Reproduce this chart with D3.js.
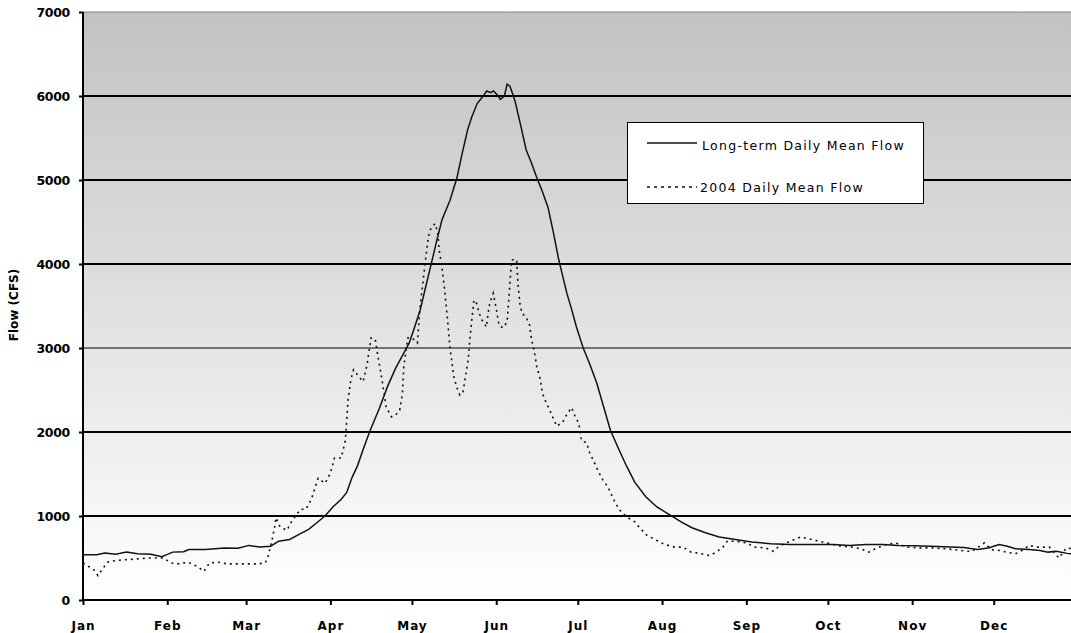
<!DOCTYPE html>
<html><head><meta charset="utf-8">
<script src="https://cdn.jsdelivr.net/npm/d3@7"></script>
<style>body{margin:0;background:#fff}svg{display:block}</style>
</head><body>
<svg id="c" width="1071" height="633"></svg>
<script>
const monthLabels = ["Jan","Feb","Mar","Apr","May","Jun","Jul","Aug","Sep","Oct","Nov","Dec"];
const monthStartDays = [0,31,60,91,121,152,182,213,244,274,305,335];
const yTicks = [0,1000,2000,3000,4000,5000,6000,7000];
const longTermDays = [0,5,8,12,16,20,25,29,33,37,39,45,52,57,61,65,69,72,76,80,83,86,89,92,95,97,99,101,103,105.5,109,112,115,118,120,122,124,126,128,130,132,135,137.5,139.5,141.5,143,145,147,148.5,150,151,152.5,153.5,155,156,157,158,159,161,163,165,167,169,171,173,175,176.5,178,180,181.5,184,186.5,189,191.5,194,197,200,203,207,211,216,220,224,229,234,240,246,253,260,268,276,282,288,294,300,306,312,319,324,329,333,337,340,343,348,352,355,358,362,366];
const longTermFlow = [540,540,560,545,570,550,545,515,570,575,600,600,620,615,650,630,640,700,720,790,840,920,1000,1110,1200,1280,1460,1600,1790,2010,2280,2540,2760,2940,3060,3250,3450,3720,3990,4260,4520,4760,5020,5320,5600,5750,5910,5990,6060,6040,6060,6010,5960,6000,6140,6120,6030,5930,5650,5360,5200,5020,4860,4680,4380,4050,3850,3650,3430,3250,3000,2800,2580,2300,2020,1800,1590,1400,1230,1110,1010,930,860,800,750,720,690,670,660,660,660,650,660,660,650,645,640,630,625,600,620,660,640,610,600,590,570,580,555,540];
const flow2004Days = [0,2,4,5.5,7,9,12,16,20,23.5,27,29.5,32.5,35.5,38.5,42,44.5,46.5,50,53,57,60,64,67,68,69.5,70.5,71,72.5,75,77,80,82,84,86.5,89,91,92.5,95,96.5,97,97.5,98.5,99.5,100.5,103,104.5,105,106,107.5,108.5,110,111.5,113.5,115,116.5,117.5,118,119.5,121,123,124,125,126,127,128,129.5,130.5,131,132,133,134,135,136.4,137.4,138.6,139.8,140.7,141.7,142.3,142.9,143.8,144.8,145.8,146.8,148.4,149,149.6,150.9,152,153,154.5,156,156.6,157.2,157.7,159.5,160,160.7,161.5,163,164.3,165,166,167,168,169,170.5,171.7,173,174.3,176.5,177.8,179.7,181,182.4,183.3,185.2,186.4,188.2,189.7,191.2,193,195.6,197.4,200,203,204.8,207.4,211,214,217.6,220.6,223.7,227.4,230.5,233,235.4,237,240,244,247,251,254,256,260,264,268,272,276,279,283,286,289,292,295.5,299,303,308,312.5,317,320.6,325,327,331.6,334,337,339.7,343,346,348,350.6,355.5,359,361.7,366];
const flow2004 = [440,400,360,290,360,450,470,480,490,500,500,500,440,430,450,400,340,440,450,430,430,430,430,440,510,710,870,980,870,830,950,1080,1080,1200,1450,1390,1510,1690,1690,1900,2140,2380,2620,2740,2700,2600,2800,2920,3120,3100,2900,2620,2300,2180,2200,2260,2460,2780,3120,3120,3060,3490,3770,4050,4320,4430,4480,4380,4170,3970,3700,3370,3000,2660,2540,2440,2480,2660,2860,3100,3300,3570,3530,3410,3330,3250,3410,3530,3650,3470,3270,3240,3310,3570,3850,4050,4050,3770,3530,3410,3370,3270,3100,2960,2760,2660,2460,2340,2260,2160,2070,2120,2200,2290,2190,2100,1900,1870,1750,1630,1520,1430,1350,1170,1070,990,930,860,770,710,660,630,630,570,550,530,570,630,700,700,680,630,620,580,640,700,750,720,690,660,640,630,610,570,620,660,680,630,620,620,610,600,580,580,680,600,590,570,550,600,650,630,630,500,620,600];
const legendLabels = ["Long-term Daily Mean Flow","2004 Daily Mean Flow"];
const yTitle = "Flow (CFS)";

const svg = d3.select("#c");
const pL = 83, pR = 1078, pT = 12, pB = 600, W = 1071;
const x = d3.scaleLinear().domain([0,366]).range([pL,pR]);
const y = d3.scaleLinear().domain([0,7000]).range([pB,pT]);
const font = "'DejaVu Sans', Verdana, sans-serif";

const defs = svg.append("defs");
const grad = defs.append("linearGradient").attr("id","bg").attr("x1",0).attr("y1",0).attr("x2",0).attr("y2",1);
grad.append("stop").attr("offset","0%").attr("stop-color","#c2c2c2");
grad.append("stop").attr("offset","100%").attr("stop-color","#ffffff");
svg.append("rect").attr("x",pL).attr("y",pT).attr("width",W-pL).attr("height",pB-pT).attr("fill","url(#bg)");

svg.append("line").attr("x1",pL).attr("x2",W).attr("y1",y(7000)).attr("y2",y(7000)).attr("stroke","#808080").attr("stroke-width",1);
svg.selectAll(".grid").data(yTicks.filter(v=>v>0 && v<7000)).enter().append("line")
  .attr("x1",pL).attr("x2",W).attr("y1",d=>y(d)).attr("y2",d=>y(d))
  .attr("stroke","#000").attr("stroke-width",d=>d===3000?1:2);

const yAxis = d3.axisLeft(y).tickValues(yTicks).tickSize(4).tickPadding(9).tickFormat(d3.format("d"));
const gy = svg.append("g").attr("transform",`translate(${pL},0)`).call(yAxis);
gy.select(".domain").attr("stroke","#000").attr("stroke-width",2).attr("d",`M0,${pT}V${pB}`);
gy.selectAll(".tick line").attr("stroke","#000").attr("stroke-width",2);
gy.selectAll("text").attr("font-family",font).attr("font-size",12.5).attr("font-weight","bold").attr("fill","#000").attr("letter-spacing",-0.3);

const xAxis = d3.axisBottom(x).tickValues(monthStartDays).tickSize(5).tickPadding(16).tickFormat((d,i)=>monthLabels[i]);
const gx = svg.append("g").attr("transform",`translate(0,${pB})`).call(xAxis);
gx.select(".domain").attr("stroke","#000").attr("stroke-width",2).attr("d",`M${pL},0H${W}`);
gx.selectAll(".tick line").attr("stroke","#000").attr("stroke-width",2);
gx.selectAll("text").attr("font-family",font).attr("font-size",12).attr("font-weight","bold").attr("fill","#000").attr("letter-spacing",1);

svg.append("text").attr("transform","translate(18,305) rotate(-90)").attr("text-anchor","middle")
  .attr("font-family",font).attr("font-size",12).attr("font-weight","bold").text(yTitle);

const line = d3.line().x(d=>x(d[0])).y(d=>y(d[1]));
svg.append("path").datum(flow2004Days.map((d,i)=>[d,flow2004[i]]))
  .attr("d",line).attr("fill","none").attr("stroke","#111").attr("stroke-width",1.6).attr("stroke-dasharray","2,4");
svg.append("path").datum(longTermDays.map((d,i)=>[d,longTermFlow[i]]))
  .attr("d",line).attr("fill","none").attr("stroke","#111").attr("stroke-width",1.5);

const lg = svg.append("g");
lg.append("rect").attr("x",627.5).attr("y",122.5).attr("width",296).attr("height",81).attr("fill","#fff").attr("stroke","#000").attr("stroke-width",1);
lg.append("line").attr("x1",647).attr("x2",697).attr("y1",143).attr("y2",143).attr("stroke","#111").attr("stroke-width",1.3);
lg.append("line").attr("x1",647).attr("x2",697).attr("y1",187).attr("y2",187).attr("stroke","#111").attr("stroke-width",1.3).attr("stroke-dasharray","3,4");
lg.append("text").attr("x",702).attr("y",150).attr("font-family",font).attr("font-size",12.5).attr("letter-spacing",1.3).text(legendLabels[0]);
lg.append("text").attr("x",700).attr("y",192).attr("font-family",font).attr("font-size",12.5).attr("letter-spacing",1.3).text(legendLabels[1]);
</script>
</body></html>
